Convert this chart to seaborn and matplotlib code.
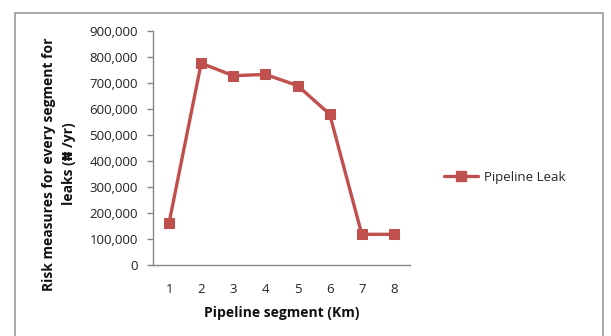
import matplotlib
matplotlib.use("Agg")
import matplotlib.pyplot as plt
import matplotlib.patches as mpatches
import seaborn as sns
import pandas as pd
from matplotlib.ticker import FuncFormatter, FixedLocator

# Risk per pipeline segment
segments = [1, 2, 3, 4, 5, 6, 7, 8]
leak_risk = [162000, 776000, 728000, 733000, 690000, 580000, 118000, 118000]
series_name = "Pipeline Leak"
y_ticks = [0, 100000, 200000, 300000, 400000, 500000, 600000, 700000, 800000, 900000]

df = pd.DataFrame({"segment": segments, "risk": leak_risk, "series": series_name})

sns.set_style("white")
plt.rcParams["font.family"] = ["Open Sans", "DejaVu Sans"]

W, H = 611, 336
fig = plt.figure(figsize=(W / 100, H / 100), dpi=100)
ax = fig.add_axes([153 / W, 1 - 265 / H, (410 - 153) / W, (265 - 31) / H])

color = "#C0504D"
sns.lineplot(data=df, x="segment", y="risk", hue="series", palette=[color],
             marker="s", markersize=7.5, markeredgecolor=color, linewidth=2.4,
             ax=ax, legend=False)

ax.set_xlim(0.5, 8.5)
ax.set_ylim(0, 900000)
ax.xaxis.set_major_locator(FixedLocator(segments))
ax.yaxis.set_major_locator(FixedLocator(y_ticks))
ax.yaxis.set_major_formatter(FuncFormatter(lambda v, p: f"{int(v):,}"))

for s in ["top", "right"]:
    ax.spines[s].set_visible(False)
for s in ["left", "bottom"]:
    ax.spines[s].set_color("#878787")
    ax.spines[s].set_linewidth(1.0)

ax.tick_params(axis="y", direction="out", length=4, width=1, color="#878787",
               labelsize=9.5, pad=7, labelcolor="#222222", left=True)
ax.tick_params(axis="x", length=0, labelsize=9.5, pad=13, labelcolor="#222222")

ax.set_xlabel("Pipeline segment (Km)", fontsize=10, fontweight="bold",
              labelpad=7, color="#111111")
ax.set_ylabel("")
fig.text(59 / W, 1 - 164 / H, "Risk measures for every segment for\nleaks (₦ /yr)",
         rotation=90, ha="center", va="center", multialignment="center",
         fontsize=10, fontweight="bold", color="#111111", linespacing=1.55)

# legend entry to the right of the plot
handle = plt.Line2D([], [], color=color, marker="s", markersize=7.5, linewidth=2.4)
fig.legend([handle], [series_name], loc="center left",
           bbox_to_anchor=(432 / W, 1 - 177 / H), frameon=False,
           fontsize=9.5, handlelength=2.6, handletextpad=0.45)

# outer chart border
fig.patches.append(mpatches.Rectangle((15 / W, -0.05), (603 - 15) / W,
                                      1.05 - 13 / H, transform=fig.transFigure,
                                      fill=False, edgecolor="#9a9a9a", linewidth=1.2))

fig.savefig("out.png", dpi=100)
